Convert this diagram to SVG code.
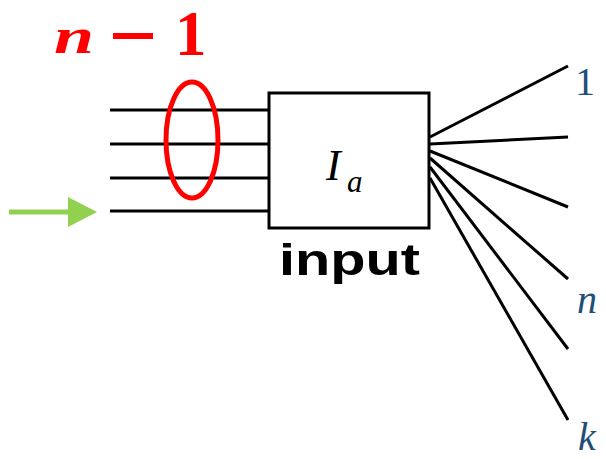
<svg xmlns="http://www.w3.org/2000/svg" width="606" height="459" viewBox="0 0 606 459">
<defs>
<style>
.ln{stroke:#000;stroke-width:3;fill:none;stroke-linecap:butt}
.lbl{font-family:"Liberation Serif","DejaVu Serif",serif;font-style:italic;fill:#1F4E79;font-size:40px}
</style>
</defs>
<rect width="606" height="459" fill="#fff"/>
<g id="connectors">
<line class="ln" x1="110" y1="110" x2="269" y2="110"/>
<line class="ln" x1="110" y1="144" x2="269" y2="144"/>
<line class="ln" x1="110" y1="178" x2="269" y2="178"/>
<line class="ln" x1="110" y1="211" x2="269" y2="211"/>
<line class="ln" x1="430" y1="137" x2="568" y2="66"/>
<line class="ln" x1="430" y1="144" x2="568" y2="137"/>
<line class="ln" x1="430" y1="151" x2="568" y2="207"/>
<line class="ln" x1="430" y1="158" x2="568" y2="279"/>
<line class="ln" x1="430" y1="167" x2="568" y2="349"/>
<line class="ln" x1="430" y1="178" x2="568" y2="420"/>
</g>
<g id="arrow">
<line x1="9" y1="212" x2="72" y2="212" stroke="#92D050" stroke-width="5"/>
<polygon points="68,197 97,212 68,227" fill="#92D050"/>
</g>
<g id="group-ellipse">
<ellipse cx="192" cy="140" rx="26" ry="58" fill="none" stroke="#FF0000" stroke-width="5"/>
<text x="54" y="53" font-family="'Liberation Serif','DejaVu Serif',serif" font-weight="bold" font-style="italic" font-size="50" fill="#FF0000" textLength="40" lengthAdjust="spacingAndGlyphs">n</text>
<rect x="113" y="33" width="40" height="6" fill="#FF0000"/>
<text x="175" y="55" font-family="'Liberation Serif','DejaVu Serif',serif" font-weight="bold" font-size="63" fill="#FF0000">1</text>
</g>
<g id="node-input">
<rect x="269" y="93" width="160" height="135" fill="#fff" stroke="#000" stroke-width="3"/>
<text x="326" y="180" font-family="'Liberation Serif','DejaVu Serif',serif" font-style="italic" font-size="44" fill="#000">I</text>
<text x="347" y="192" font-family="'Liberation Serif','DejaVu Serif',serif" font-style="italic" font-size="31" fill="#000">a</text>
<text x="279" y="275" font-family="'Liberation Sans','DejaVu Sans',sans-serif" font-weight="bold" font-size="45" fill="#000" textLength="141" lengthAdjust="spacingAndGlyphs">input</text>
</g>
<g id="labels">
<text x="575" y="95" font-family="'Liberation Serif','DejaVu Serif',serif" font-size="40" fill="#1F4E79">1</text>
<text class="lbl" x="577" y="313">n</text>
<text class="lbl" x="578" y="450">k</text>
</g>
</svg>
